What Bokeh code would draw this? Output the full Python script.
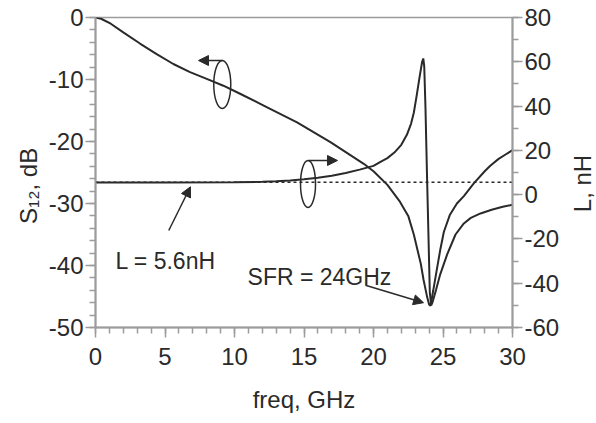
import math
from bokeh.plotting import figure
from bokeh.layouts import row
from bokeh.models import (Range1d, LinearAxis, SingleIntervalTicker, Arrow, NormalHead, Label,
                          PrintfTickFormatter)
from bokeh.embed import file_html
from bokeh.resources import INLINE

# ---- data ----
s12_freq = [0, 0.4, 1.1, 2.0, 3.2, 4.4, 5.6, 6.8, 8.0, 9.2, 10.4, 12.1, 14.5, 16.9, 19.3,
            20.0, 21.0, 21.9, 22.5, 22.9, 23.4, 23.6, 23.86, 24.0, 24.1, 24.3, 24.53,
            24.8, 25.06, 25.5, 26.0, 26.5, 27.2, 28.0, 28.4, 29.0, 29.5, 30.0]
s12_db = [0, -0.2, -1.0, -2.4, -4.2, -5.9, -7.5, -8.8, -9.9, -11.0, -12.3, -14.2, -16.9, -20.1, -23.6,
          -24.8, -27.0, -29.7, -32.0, -35.0, -39.7, -42.3, -45.1, -46.3, -46.5, -44.0, -41.0,
          -37.5, -34.6, -31.8, -30.0, -28.8, -26.8, -24.8, -23.9, -22.8, -22.1, -21.4]

l_freq = [0, 5, 10, 12, 13, 14, 15, 16, 17, 18, 19, 20, 20.5, 21, 21.5, 22, 22.4, 22.7, 22.9,
          23.1, 23.3, 23.5, 23.58, 23.65, 23.74, 23.86, 23.96, 24.05, 24.15, 24.25, 24.5,
          24.8, 25.3, 25.9, 26.5, 27.0, 27.7, 28.5, 29.3, 30.0]
l_nh = [5.5, 5.5, 5.6, 5.8, 6.0, 6.4, 6.9, 7.6, 8.5, 9.8, 11.3, 13.0, 14.8, 16.5, 19.0, 22.5, 27.0, 32.0, 37.0,
        44.5, 52.5, 60.0, 61.5, 58.0, 39.0, 6.0, -20.0, -44.0, -50.0, -48.5, -43.0,
        -36.0, -27.0, -18.0, -13.0, -10.5, -8.5, -6.8, -5.5, -4.6]

l_ref_freq = [0, 30]
l_ref_nh = [5.6, 5.6]

FONT = "Liberation Sans"
INK = "#2a2a2a"
AXC = "#9c9c9c"
PAD = "\u00a0" * 4

p = figure(width=566, height=423, output_backend="svg", toolbar_location=None,
           x_range=Range1d(0, 30), y_range=Range1d(-50, 0),
           min_border_left=95, min_border_right=54, min_border_top=17, min_border_bottom=96)
p.extra_y_ranges = {"L": Range1d(-60, 80)}
p.xgrid.visible = False
p.ygrid.visible = False
p.outline_line_color = AXC
p.outline_line_width = 1.5
p.background_fill_color = "white"
p.border_fill_color = "white"

def style_axis(ax, standoff, label, label_standoff):
    ax.axis_line_color = AXC
    ax.axis_line_width = 2
    ax.major_tick_line_color = AXC
    ax.minor_tick_line_color = AXC
    ax.major_tick_line_width = 1.5
    ax.minor_tick_line_width = 1.5
    ax.major_tick_in = 0
    ax.minor_tick_in = 0
    ax.major_tick_out = 10
    ax.minor_tick_out = 6
    ax.major_label_text_font = FONT
    ax.major_label_text_font_size = "24px"
    ax.major_label_text_color = INK
    ax.major_label_standoff = standoff
    ax.formatter = PrintfTickFormatter(format="%d")
    ax.axis_label = label
    ax.axis_label_text_font = FONT
    ax.axis_label_text_font_size = "24px"
    ax.axis_label_text_font_style = "normal"
    ax.axis_label_text_color = INK
    ax.axis_label_standoff = label_standoff

p.xaxis.ticker = SingleIntervalTicker(interval=5, num_minor_ticks=5)
style_axis(p.xaxis[0], 10, "freq, GHz", 18)

p.yaxis.ticker = SingleIntervalTicker(interval=10, num_minor_ticks=5)
style_axis(p.yaxis[0], 2, "S\u2081\u2082, dB" + PAD, 4)

rax = LinearAxis(y_range_name="L", ticker=SingleIntervalTicker(interval=20, num_minor_ticks=2))
style_axis(rax, 2, None, 0)
p.add_layout(rax, "right")

# curves
p.line(s12_freq, s12_db, line_color=INK, line_width=2)
p.line(l_freq, l_nh, y_range_name="L", line_color=INK, line_width=2)
p.line(l_ref_freq, l_ref_nh, y_range_name="L", line_color=INK, line_width=1.5, line_dash="3 3")

# ellipses marking which axis a curve belongs to
p.ellipse(x=[9.12, 15.29], y=[-10.8, -26.85], width=[17, 15], height=[48, 47],
          width_units="screen", height_units="screen",
          fill_color=None, line_color=INK, line_width=1.5)

def arrow(x0, y0, x1, y1):
    p.add_layout(Arrow(end=NormalHead(size=10, fill_color=INK, line_color=INK),
                       x_start=x0, y_start=y0, x_end=x1, y_end=y1,
                       line_color=INK, line_width=1.5))

arrow(9.14, -6.94, 7.41, -6.94)
arrow(15.32, -23.06, 17.41, -23.06)
arrow(5.27, -34.35, 6.83, -27.3)
arrow(19.42, -43.2, 23.6, -46.0)

for txt, x, y in [("L = 5.6nH", 1.44, -39.2), ("SFR = 24GHz", 10.94, -41.9)]:
    p.add_layout(Label(x=x, y=y, text=txt, text_font=FONT, text_font_size="23px",
                       text_color=INK, text_baseline="alphabetic"))

# right-axis title in a narrow side panel, reading upwards like the left one
side = figure(width=30, height=423, output_backend="svg", toolbar_location=None,
              x_axis_type=None, y_axis_type=None, min_border=0,
              x_range=Range1d(0, 1), y_range=Range1d(0, 1))
side.outline_line_color = None
side.xgrid.visible = False
side.ygrid.visible = False
side.add_layout(Label(x=16, y=183, x_units="canvas", y_units="canvas", text="L, nH",
                      angle=math.pi / 2, text_font=FONT, text_font_size="24px", text_color=INK,
                      text_align="center", text_baseline="middle"))

layout = row(p, side)
open("out.html", "w").write(file_html(layout, INLINE))
